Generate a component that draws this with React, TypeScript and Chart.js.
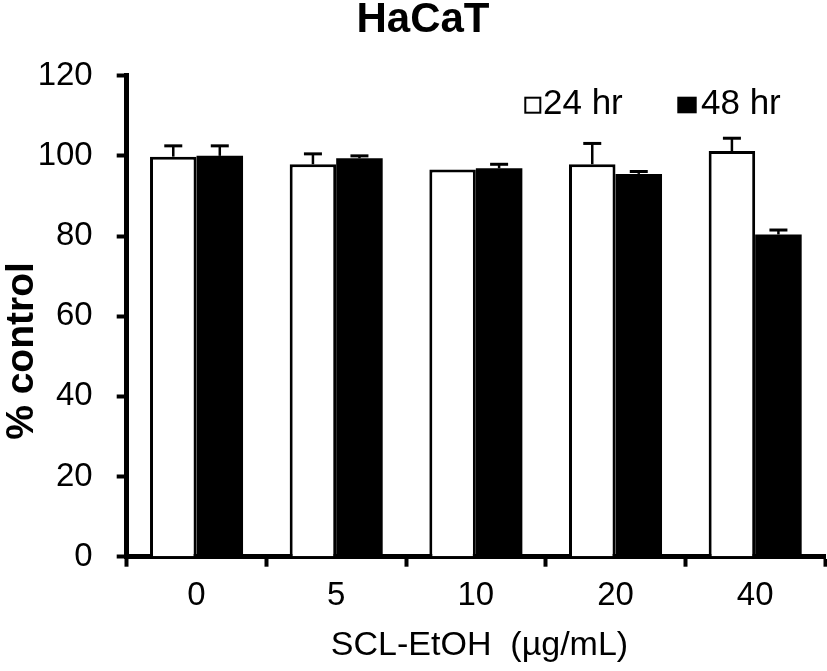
import React, { useEffect, useRef } from "react";
import { Chart, registerables } from "chart.js";

Chart.register(...registerables);

const categories = ["0", "5", "10", "20", "40"];
const series24 = [99.8, 97.9, 96.6, 97.9, 101.2];
const err24 = [2.7, 2.6, 0, 5.2, 3.2];
const series48 = [100.0, 99.4, 96.9, 95.5, 80.4];
const err48 = [2.5, 0.6, 1.0, 0.6, 1.1];
const seriesLabels = ["24 hr", "48 hr"];
const yMin = 0;
const yMax = 120;
const yStep = 20;
const chartTitle = "HaCaT";
const xTitle = "SCL-EtOH  (µg/mL)";
const yTitle = "% control";

const FONT = "'Liberation Sans', Arial, Helvetica, sans-serif";

const errorBarPlugin = {
  id: "errorBars",
  afterDatasetsDraw(chart: any) {
    const ctx = chart.ctx;
    const y = chart.scales.y;
    chart.data.datasets.forEach((ds: any, i: number) => {
      const meta = chart.getDatasetMeta(i);
      const errs: number[] = ds.errors || [];
      meta.data.forEach((bar: any, j: number) => {
        const e = errs[j];
        if (!e) return;
        const v = ds.data[j];
        const yTop = y.getPixelForValue(v);
        const yErr = y.getPixelForValue(v + e);
        ctx.save();
        ctx.strokeStyle = "#000";
        ctx.lineWidth = 2.5;
        ctx.beginPath();
        ctx.moveTo(bar.x, yTop);
        ctx.lineTo(bar.x, yErr);
        ctx.stroke();
        ctx.lineWidth = 3;
        ctx.beginPath();
        ctx.moveTo(bar.x - 9, yErr);
        ctx.lineTo(bar.x + 9, yErr);
        ctx.stroke();
        ctx.restore();
      });
    });
  },
};

const textPlugin = {
  id: "texts",
  afterDraw(chart: any) {
    const ctx = chart.ctx;
    ctx.save();
    ctx.fillStyle = "#000";
    ctx.font = `bold 42px ${FONT}`;
    ctx.textAlign = "center";
    ctx.textBaseline = "alphabetic";
    ctx.fillText(chartTitle, 423, 32);
    ctx.font = `34px ${FONT}`;
    ctx.fillText(xTitle, 479.5, 655);
    ctx.save();
    ctx.translate(33, 351);
    ctx.rotate(-Math.PI / 2);
    ctx.font = `bold 39px ${FONT}`;
    ctx.textAlign = "center";
    ctx.fillText(yTitle, 0, 0);
    ctx.restore();
    ctx.font = `35px ${FONT}`;
    ctx.textAlign = "left";
    ctx.strokeStyle = "#000";
    ctx.lineWidth = 2;
    ctx.fillStyle = "#fff";
    ctx.fillRect(525.3, 97.7, 15, 15);
    ctx.strokeRect(525.3, 97.7, 15, 15);
    ctx.fillStyle = "#000";
    ctx.fillText(seriesLabels[0], 543, 114.3);
    ctx.fillRect(677.3, 96.7, 19.4, 16.6);
    ctx.fillText(seriesLabels[1], 701, 114.3);
    ctx.restore();
  },
};

export default function App() {
  const ref = useRef<HTMLCanvasElement | null>(null);
  useEffect(() => {
    if (!ref.current) return;
    const chart = new Chart(ref.current, {
      type: "bar",
      data: {
        labels: categories,
        datasets: [
          {
            label: seriesLabels[0],
            data: series24,
            errors: err24,
            backgroundColor: "#fff",
            borderColor: "#000",
            borderWidth: 3,
            categoryPercentage: 0.666,
            barPercentage: 1,
          } as any,
          {
            label: seriesLabels[1],
            data: series48,
            errors: err48,
            backgroundColor: "#000",
            borderColor: "#000",
            borderWidth: 0,
            categoryPercentage: 0.666,
            barPercentage: 1,
          } as any,
        ],
      },
      options: {
        animation: false,
        responsive: false,
        devicePixelRatio: 1,
        layout: { padding: { top: 75.7, right: 2, left: 0, bottom: 0 } },
        plugins: {
          legend: { display: false },
          title: { display: false },
          tooltip: { enabled: false },
        },
        scales: {
          x: {
            afterFit: (s: any) => {
              s.height = 671 - 556.7;
            },
            grid: {
              display: true,
              drawOnChartArea: false,
              offset: true,
              color: "#000",
              tickLength: 10,
              tickWidth: 4,
            },
            border: { display: true, color: "#000", width: 5 },
            ticks: {
              color: "#000",
              font: { family: FONT, size: 33 },
              padding: 9,
            },
          },
          y: {
            min: yMin,
            max: yMax,
            afterFit: (s: any) => {
              s.width = 126.7;
            },
            grid: {
              display: true,
              drawOnChartArea: false,
              color: "#000",
              tickLength: 10,
              tickWidth: 4,
            },
            border: { display: true, color: "#000", width: 5 },
            ticks: {
              stepSize: yStep,
              color: "#000",
              font: { family: FONT, size: 33 },
              padding: 24,
            },
          },
        },
      },
      plugins: [errorBarPlugin, textPlugin],
    });
    return () => chart.destroy();
  }, []);
  return (
    <div style={{ position: "fixed", left: 0, top: 0, width: 827, height: 671, background: "#fff" }}>
      <canvas ref={ref} width={827} height={671} style={{ display: "block", width: 827, height: 671 }} />
    </div>
  );
}
